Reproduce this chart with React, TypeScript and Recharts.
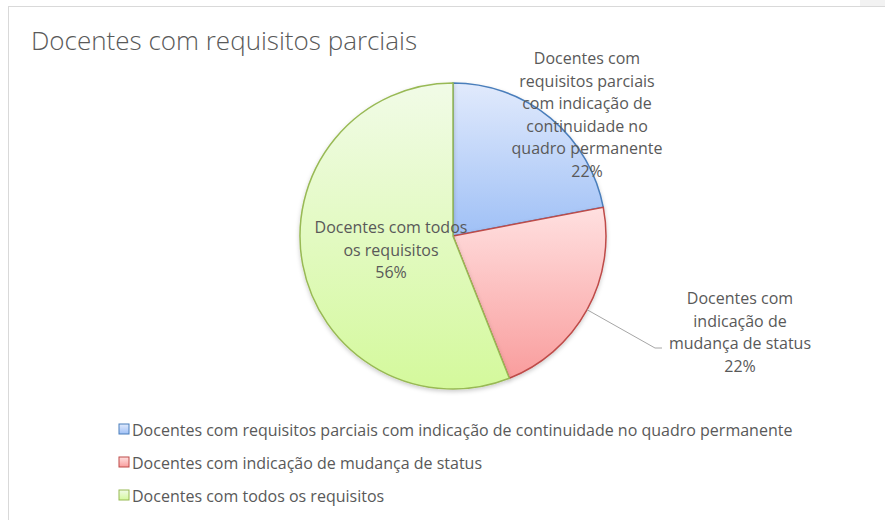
import { PieChart, Pie, Cell, Legend } from "recharts";

const categories = [
  "Docentes com requisitos parciais com indicação de continuidade no quadro permanente",
  "Docentes com indicação de mudança de status",
  "Docentes com todos os requisitos",
];
const values = [22, 22, 56];
const labelLines = [
  ["Docentes com", "requisitos parciais", "com indicação de", "continuidade no", "quadro permanente"],
  ["Docentes com", "indicação de", "mudança de status"],
  ["Docentes com todos", "os requisitos"],
];

const grads = [
  { id: "gBlue", top: "#e1eafc", bottom: "#9fc0f6", stroke: "#4a7ebb" },
  { id: "gRed", top: "#ffe0e0", bottom: "#f99d9d", stroke: "#be4b48" },
  { id: "gGreen", top: "#f1fbe7", bottom: "#d4f99c", stroke: "#98b954" },
];

const CX = 453;
const CY = 236;
const R = 153;

// label anchor offsets from pie centre (Excel "best fit" placement)
const labelOffsets = [
  { dx: 134, dy: -178 },
  { dx: 287, dy: 62 },
  { dx: -62, dy: -9 },
];

const data = categories.map((name, i) => ({ name, value: values[i] }));
const FONT = "'Open Sans', sans-serif";
const TXT = "#595959";

const renderLabel = (p: any) => {
  const { index, midAngle, percent } = p;
  const off = labelOffsets[index];
  const lines = [...labelLines[index], `${Math.round(percent * 100)}%`];
  const x = CX + off.dx;
  const y0 = CY + off.dy;
  let leader = null;
  if (index === 1) {
    const rad = (-midAngle * Math.PI) / 180;
    const sx = CX + R * Math.cos(rad);
    const sy = CY + R * Math.sin(rad);
    leader = (
      <polyline
        points={`${sx},${sy} ${x - 85},${y0 + 50} ${x - 78},${y0 + 50}`}
        fill="none"
        stroke="#a6a6a6"
        strokeWidth={1}
      />
    );
  }
  return (
    <g key={`lbl-${index}`}>
      {leader}
      {lines.map((t, j) => (
        <text
          key={j}
          x={x}
          y={y0 + j * 22.6}
          textAnchor="middle"
          dominantBaseline="central"
          fill={TXT}
          fontSize={16}
          fontFamily={FONT}
        >
          {t}
        </text>
      ))}
    </g>
  );
};

const renderLegend = () => (
  <div style={{ fontFamily: FONT, fontSize: 16, color: TXT }}>
    {categories.map((c, i) => (
      <div key={c} style={{ display: "flex", alignItems: "center", height: 33 }}>
        <svg width={13} height={13} style={{ marginRight: 1 }}>
          <rect x={1} y={1} width={10} height={10} fill={`url(#${grads[i].id})`} stroke={grads[i].stroke} />
        </svg>
        <span>{c}</span>
      </div>
    ))}
  </div>
);

export default function App() {
  return (
    <div style={{ position: "absolute", left: 0, top: 0, width: 885, height: 520, background: "#fff", overflow: "hidden" }}>
      <svg width={0} height={0} style={{ position: "absolute" }}>
        <defs>
          {grads.map((g) => (
            <linearGradient key={g.id} id={g.id} x1="0" y1="0" x2="0" y2="1">
              <stop offset="0%" stopColor={g.top} />
              <stop offset="100%" stopColor={g.bottom} />
            </linearGradient>
          ))}
          <filter id="pieShadow" x="-10%" y="-10%" width="120%" height="125%">
            <feDropShadow dx="0" dy="2" stdDeviation="2" floodColor="#000" floodOpacity="0.2" />
          </filter>
        </defs>
      </svg>
      <div style={{ position: "absolute", left: 860, top: 0, width: 25, height: 6, background: "#f2f2f2" }} />
      <div style={{ position: "absolute", left: 8, top: 6, width: 890, height: 520, borderLeft: "1px solid #d9d9d9", borderTop: "1px solid #d9d9d9" }} />
      <div
        style={{
          position: "absolute",
          left: 31,
          top: 22,
          fontFamily: FONT,
          fontSize: 26,
          fontWeight: 300,
          color: TXT,
          whiteSpace: "nowrap",
        }}
      >
        Docentes com requisitos parciais
      </div>
      <div style={{ position: "absolute", left: 0, top: 0 }}>
        <PieChart width={885} height={520} margin={{ top: 0, right: 0, bottom: 0, left: 0 }}>
          <Pie
            data={data}
            dataKey="value"
            nameKey="name"
            cx={CX}
            cy={CY}
            outerRadius={R}
            startAngle={90}
            endAngle={-270}
            isAnimationActive={false}
            label={renderLabel}
            labelLine={false}
          >
            {data.map((d, i) => (
              <Cell
                key={d.name}
                fill={`url(#${grads[i].id})`}
                stroke={grads[i].stroke}
                strokeWidth={1.5}
                style={{ filter: "url(#pieShadow)" }}
              />
            ))}
          </Pie>
          <Legend
            layout="horizontal"
            verticalAlign="bottom"
            align="center"
            content={renderLegend}
            wrapperStyle={{ left: 118, top: 413, bottom: "auto", width: 760 }}
          />
        </PieChart>
      </div>
    </div>
  );
}
